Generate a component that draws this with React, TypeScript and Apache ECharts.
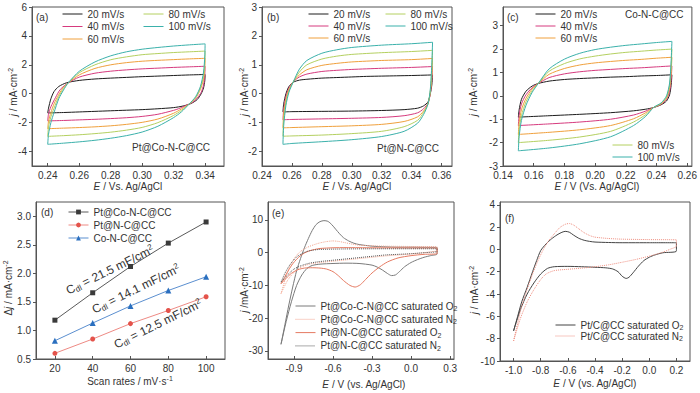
import React, { useEffect, useRef } from "react";
import * as echarts from "echarts";

type P = [number, number];

const FONT = '"Liberation Sans", Arial, Helvetica, sans-serif';
const AX = "#555";
const TXT = "#333";

const RATE_NAMES = ["20 mV/s", "40 mV/s", "60 mV/s", "80 mV/s", "100 mV/s"];
const RATE_COLORS = ["#1c1c1c", "#d63a7e", "#f0a03c", "#b4d060", "#3bb1ab"];

// (a) Pt@Co-N-C@CC
const A_20: P[] = [[0.24,-1.33],[0.2405,-1.0],[0.242,-0.35],[0.244,0.15],[0.247,0.5],[0.252,0.76],[0.26,0.92],[0.27,1.02],[0.28,1.08],[0.29,1.13],[0.30,1.18],[0.31,1.22],[0.32,1.26],[0.33,1.3],[0.34,1.33],[0.3398,0.9],[0.339,0.4],[0.3375,0.0],[0.335,-0.4],[0.331,-0.68],[0.326,-0.85],[0.32,-0.96],[0.31,-1.04],[0.30,-1.1],[0.29,-1.14],[0.28,-1.18],[0.27,-1.22],[0.26,-1.26],[0.25,-1.3],[0.24,-1.33]];
const A_40: P[] = [[0.24,-1.88],[0.2405,-1.4],[0.242,-0.9],[0.245,-0.25],[0.248,0.3],[0.253,0.75],[0.26,1.15],[0.27,1.42],[0.28,1.56],[0.29,1.65],[0.30,1.72],[0.31,1.77],[0.32,1.82],[0.33,1.86],[0.34,1.9],[0.3398,1.3],[0.339,0.6],[0.3375,0.1],[0.335,-0.3],[0.332,-0.6],[0.328,-0.8],[0.324,-1.0],[0.32,-1.15],[0.31,-1.42],[0.30,-1.57],[0.29,-1.66],[0.28,-1.72],[0.27,-1.77],[0.26,-1.81],[0.25,-1.85],[0.24,-1.88]];
const A_60: P[] = [[0.24,-2.42],[0.2405,-1.9],[0.242,-1.3],[0.244,-0.7],[0.247,-0.05],[0.25,0.45],[0.253,0.75],[0.26,1.3],[0.27,1.75],[0.28,2.0],[0.29,2.15],[0.30,2.25],[0.31,2.31],[0.32,2.36],[0.33,2.41],[0.34,2.45],[0.3398,1.8],[0.339,1.0],[0.337,0.3],[0.334,-0.3],[0.33,-0.7],[0.325,-1.05],[0.32,-1.35],[0.31,-1.75],[0.30,-1.98],[0.29,-2.12],[0.28,-2.22],[0.27,-2.29],[0.26,-2.34],[0.25,-2.38],[0.24,-2.42]];
const A_80: P[] = [[0.24,-2.95],[0.2405,-2.3],[0.242,-1.6],[0.244,-1.0],[0.247,-0.2],[0.25,0.35],[0.253,0.75],[0.26,1.45],[0.27,2.0],[0.28,2.35],[0.29,2.55],[0.30,2.7],[0.31,2.78],[0.32,2.85],[0.33,2.9],[0.34,2.95],[0.3398,2.2],[0.339,1.2],[0.337,0.4],[0.334,-0.25],[0.33,-0.7],[0.325,-1.15],[0.32,-1.5],[0.31,-2.0],[0.30,-2.33],[0.29,-2.52],[0.28,-2.66],[0.27,-2.76],[0.26,-2.84],[0.25,-2.9],[0.24,-2.95]];
const A_100: P[] = [[0.24,-3.5],[0.2405,-2.8],[0.242,-2.0],[0.244,-1.3],[0.247,-0.35],[0.25,0.25],[0.253,0.75],[0.26,1.55],[0.27,2.2],[0.28,2.62],[0.29,2.9],[0.30,3.08],[0.31,3.2],[0.32,3.3],[0.33,3.38],[0.34,3.45],[0.3398,2.6],[0.339,1.5],[0.337,0.5],[0.334,-0.2],[0.33,-0.7],[0.325,-1.25],[0.32,-1.65],[0.31,-2.25],[0.30,-2.65],[0.29,-2.9],[0.28,-3.08],[0.27,-3.22],[0.26,-3.33],[0.25,-3.42],[0.24,-3.5]];

// (b) Pt@N-C@CC
const B_20: P[] = [[0.254,-0.63],[0.2545,-0.35],[0.256,0.0],[0.258,0.25],[0.261,0.4],[0.265,0.47],[0.27,0.5],[0.28,0.54],[0.29,0.56],[0.30,0.58],[0.31,0.6],[0.32,0.61],[0.33,0.62],[0.34,0.63],[0.354,0.65],[0.3535,0.3],[0.3525,0.0],[0.351,-0.28],[0.348,-0.42],[0.344,-0.5],[0.335,-0.55],[0.32,-0.58],[0.30,-0.6],[0.28,-0.61],[0.26,-0.62],[0.254,-0.63]];
const B_40: P[] = [[0.254,-0.9],[0.2545,-0.55],[0.256,-0.1],[0.258,0.2],[0.261,0.42],[0.265,0.58],[0.27,0.68],[0.28,0.77],[0.29,0.81],[0.30,0.84],[0.32,0.88],[0.34,0.91],[0.354,0.94],[0.3535,0.45],[0.3525,0.0],[0.351,-0.32],[0.348,-0.52],[0.344,-0.66],[0.335,-0.76],[0.32,-0.82],[0.30,-0.85],[0.28,-0.87],[0.26,-0.89],[0.254,-0.9]];
const B_60: P[] = [[0.254,-1.18],[0.2545,-0.7],[0.256,-0.2],[0.258,0.15],[0.261,0.42],[0.265,0.65],[0.27,0.83],[0.28,0.98],[0.29,1.05],[0.30,1.1],[0.32,1.15],[0.34,1.18],[0.354,1.22],[0.3535,0.6],[0.3525,0.05],[0.351,-0.33],[0.348,-0.6],[0.344,-0.8],[0.335,-0.96],[0.32,-1.06],[0.30,-1.11],[0.28,-1.14],[0.26,-1.17],[0.254,-1.18]];
const B_80: P[] = [[0.254,-1.47],[0.2545,-0.9],[0.256,-0.3],[0.258,0.1],[0.261,0.42],[0.265,0.75],[0.27,1.0],[0.28,1.2],[0.29,1.3],[0.30,1.36],[0.32,1.42],[0.34,1.46],[0.354,1.5],[0.3535,0.8],[0.3525,0.1],[0.351,-0.35],[0.348,-0.65],[0.344,-0.92],[0.335,-1.14],[0.32,-1.3],[0.30,-1.38],[0.28,-1.43],[0.26,-1.46],[0.254,-1.47]];
const B_100: P[] = [[0.254,-1.75],[0.2545,-1.1],[0.256,-0.4],[0.258,0.05],[0.261,0.42],[0.265,0.85],[0.27,1.15],[0.28,1.4],[0.29,1.52],[0.30,1.6],[0.32,1.68],[0.34,1.73],[0.354,1.78],[0.3535,1.0],[0.3525,0.15],[0.351,-0.35],[0.348,-0.72],[0.344,-1.02],[0.335,-1.3],[0.32,-1.48],[0.30,-1.59],[0.28,-1.66],[0.26,-1.72],[0.254,-1.75]];

// (c) Co-N-C@CC
const C_20: P[] = [[0.15,-0.91],[0.1505,-0.6],[0.152,-0.15],[0.155,0.2],[0.159,0.42],[0.163,0.53],[0.17,0.63],[0.18,0.7],[0.19,0.74],[0.20,0.77],[0.21,0.8],[0.22,0.82],[0.23,0.85],[0.24,0.87],[0.25,0.9],[0.2495,0.45],[0.2485,0.05],[0.2465,-0.22],[0.243,-0.38],[0.238,-0.5],[0.233,-0.57],[0.225,-0.64],[0.21,-0.72],[0.19,-0.79],[0.17,-0.85],[0.15,-0.91]];
const C_40: P[] = [[0.15,-1.27],[0.1505,-0.85],[0.152,-0.35],[0.155,0.05],[0.159,0.35],[0.163,0.53],[0.17,0.78],[0.18,0.94],[0.19,1.03],[0.20,1.09],[0.21,1.13],[0.22,1.17],[0.23,1.2],[0.24,1.24],[0.25,1.28],[0.2495,0.7],[0.2485,0.2],[0.2465,-0.15],[0.243,-0.36],[0.238,-0.5],[0.233,-0.65],[0.225,-0.82],[0.21,-1.0],[0.19,-1.12],[0.17,-1.2],[0.15,-1.27]];
const C_60: P[] = [[0.15,-1.65],[0.1505,-1.15],[0.152,-0.6],[0.155,-0.1],[0.159,0.3],[0.163,0.53],[0.17,0.92],[0.18,1.17],[0.19,1.32],[0.20,1.41],[0.21,1.47],[0.22,1.52],[0.23,1.56],[0.24,1.61],[0.25,1.65],[0.2495,1.0],[0.2485,0.35],[0.2465,-0.1],[0.243,-0.34],[0.238,-0.5],[0.233,-0.72],[0.225,-0.98],[0.21,-1.27],[0.19,-1.45],[0.17,-1.56],[0.15,-1.65]];
const C_80: P[] = [[0.15,-2.0],[0.1505,-1.45],[0.152,-0.85],[0.155,-0.25],[0.159,0.22],[0.163,0.53],[0.17,1.05],[0.18,1.38],[0.19,1.58],[0.20,1.7],[0.21,1.79],[0.22,1.86],[0.23,1.91],[0.24,1.96],[0.25,2.0],[0.2495,1.25],[0.2485,0.45],[0.2465,-0.05],[0.243,-0.32],[0.238,-0.5],[0.233,-0.8],[0.225,-1.12],[0.21,-1.52],[0.19,-1.76],[0.17,-1.9],[0.15,-2.0]];
const C_100: P[] = [[0.15,-2.35],[0.1505,-1.75],[0.152,-1.05],[0.155,-0.4],[0.159,0.15],[0.163,0.53],[0.17,1.15],[0.18,1.57],[0.19,1.82],[0.20,1.98],[0.21,2.08],[0.22,2.16],[0.23,2.22],[0.24,2.28],[0.25,2.33],[0.2495,1.5],[0.2485,0.55],[0.2465,0.0],[0.243,-0.3],[0.238,-0.5],[0.233,-0.87],[0.225,-1.27],[0.21,-1.75],[0.19,-2.05],[0.17,-2.23],[0.15,-2.35]];

// (d) Δj vs scan rate
const D_RATES = [20, 40, 60, 80, 100];
const D_PT_CONC = [1.18, 1.66, 2.12, 2.53, 2.90];
const D_PT_NC = [0.60, 0.85, 1.12, 1.35, 1.59];
const D_CONC = [0.82, 1.13, 1.43, 1.70, 1.94];
const D_NAMES = ["Pt@Co-N-C@CC", "Pt@N-C@CC", "Co-N-C@CC"];

// (e) ORR CVs
const E_NAMES = ["Pt@Co-C-N@CC saturated O2", "Pt@Co-C-N@CC saturated N2", "Pt@N-C@CC saturated O2", "Pt@N-C@CC saturated N2"];
const E_COCN_O2: P[] = [[-1.0,-28],[-0.97,-22],[-0.94,-16],[-0.91,-10.5],[-0.88,-5.5],[-0.85,-1.8],[-0.82,1.5],[-0.79,4.3],[-0.76,6.8],[-0.73,8.6],[-0.7,9.5],[-0.67,9.8],[-0.64,9.6],[-0.61,8.6],[-0.58,7.2],[-0.55,5.8],[-0.52,4.6],[-0.48,3.6],[-0.44,2.9],[-0.4,2.5],[-0.3,2.0],[-0.2,1.8],[-0.1,1.7],[0.0,1.7],[0.1,1.65],[0.2,1.6],[0.2,-0.4],[0.15,-0.9],[0.1,-1.4],[0.05,-2.1],[0.0,-3.0],[-0.05,-4.3],[-0.09,-5.8],[-0.12,-6.8],[-0.15,-7.0],[-0.18,-6.4],[-0.22,-5.3],[-0.26,-4.4],[-0.3,-3.8],[-0.4,-3.3],[-0.5,-3.2],[-0.6,-3.3],[-0.7,-3.5],[-0.76,-3.9],[-0.8,-4.8],[-0.84,-6.8],[-0.88,-10],[-0.92,-15],[-0.96,-21],[-1.0,-28]];
const E_COCN_N2: P[] = [[-1.0,-12.5],[-0.97,-8.5],[-0.94,-5],[-0.91,-2.5],[-0.88,-0.8],[-0.85,0.4],[-0.8,1.6],[-0.75,2.4],[-0.7,3.0],[-0.65,3.4],[-0.6,3.6],[-0.55,3.4],[-0.5,3.0],[-0.45,2.6],[-0.4,2.3],[-0.3,2.1],[-0.2,2.0],[0.0,1.9],[0.2,1.8],[0.2,0.6],[0.15,0.3],[0.1,0.0],[0.0,-0.4],[-0.1,-0.7],[-0.2,-1.0],[-0.3,-1.4],[-0.4,-1.8],[-0.5,-2.2],[-0.6,-2.6],[-0.7,-3.0],[-0.78,-3.5],[-0.84,-4.3],[-0.9,-6.0],[-0.95,-8.5],[-1.0,-12.5]];
const E_NC_O2: P[] = [[-1.0,-9.5],[-0.97,-7.3],[-0.94,-5.2],[-0.91,-3.4],[-0.88,-2.0],[-0.85,-0.9],[-0.82,-0.1],[-0.78,0.6],[-0.74,1.0],[-0.7,1.3],[-0.6,1.5],[-0.5,1.55],[-0.3,1.5],[0.0,1.45],[0.2,1.4],[0.2,-0.3],[0.1,-0.5],[0.0,-0.9],[-0.1,-1.6],[-0.18,-2.8],[-0.24,-4.3],[-0.3,-6.2],[-0.35,-8.2],[-0.39,-9.8],[-0.43,-10.5],[-0.47,-10.0],[-0.52,-8.5],[-0.56,-7.0],[-0.6,-5.8],[-0.65,-5.0],[-0.7,-4.7],[-0.76,-4.6],[-0.82,-4.7],[-0.87,-5.2],[-0.92,-6.3],[-0.96,-7.8],[-1.0,-9.5]];
const E_NC_N2: P[] = [[-1.0,-9],[-0.97,-6.3],[-0.94,-4.2],[-0.91,-2.6],[-0.88,-1.3],[-0.84,-0.3],[-0.8,0.4],[-0.75,0.8],[-0.7,1.0],[-0.5,1.15],[-0.2,1.2],[0.0,1.2],[0.2,1.2],[0.2,0.4],[0.1,0.0],[0.0,-0.3],[-0.1,-0.5],[-0.2,-0.7],[-0.3,-1.1],[-0.4,-1.5],[-0.5,-1.9],[-0.6,-2.3],[-0.7,-2.7],[-0.78,-3.2],[-0.84,-3.9],[-0.9,-5.0],[-0.95,-6.8],[-1.0,-9]];

// (f) Pt/C@CC
const F_NAMES = ["Pt/C@CC saturated O2", "Pt/C@CC saturated N2"];
const F_O2: P[] = [[-1.0,-7.3],[-0.97,-6.0],[-0.94,-4.7],[-0.9,-3.4],[-0.86,-2.0],[-0.83,-1.0],[-0.8,-0.1],[-0.76,0.5],[-0.72,0.95],[-0.68,1.3],[-0.65,1.5],[-0.62,1.62],[-0.59,1.55],[-0.56,1.3],[-0.52,1.0],[-0.48,0.82],[-0.44,0.72],[-0.4,0.66],[-0.3,0.62],[-0.2,0.6],[0.0,0.6],[0.2,0.6],[0.2,-0.15],[0.1,-0.3],[0.04,-0.5],[0.0,-0.7],[-0.04,-1.0],[-0.08,-1.5],[-0.12,-2.1],[-0.15,-2.5],[-0.17,-2.6],[-0.2,-2.4],[-0.23,-2.0],[-0.27,-1.75],[-0.32,-1.65],[-0.4,-1.6],[-0.5,-1.55],[-0.6,-1.52],[-0.7,-1.55],[-0.75,-1.7],[-0.8,-2.2],[-0.85,-3.0],[-0.9,-4.0],[-0.95,-5.4],[-1.0,-7.3]];
const F_N2: P[] = [[-1.0,-8.2],[-0.97,-6.6],[-0.94,-5.1],[-0.9,-3.6],[-0.86,-2.2],[-0.82,-1.0],[-0.78,0.0],[-0.74,0.8],[-0.7,1.4],[-0.66,1.95],[-0.62,2.25],[-0.59,2.32],[-0.56,2.2],[-0.52,1.85],[-0.48,1.5],[-0.44,1.25],[-0.4,1.1],[-0.3,0.98],[-0.2,0.92],[0.0,0.88],[0.2,0.85],[0.2,0.3],[0.15,0.0],[0.1,-0.25],[0.0,-0.6],[-0.1,-0.9],[-0.2,-1.15],[-0.3,-1.38],[-0.4,-1.55],[-0.5,-1.68],[-0.6,-1.78],[-0.7,-1.9],[-0.76,-2.2],[-0.8,-2.7],[-0.85,-3.6],[-0.9,-4.7],[-0.95,-6.2],[-1.0,-8.2]];

// tick values
const A_XTICKS = [0.24, 0.26, 0.28, 0.30, 0.32, 0.34];
const A_YTICKS = [-4, -2, 0, 2, 4, 6];
const B_XTICKS = [0.24, 0.26, 0.28, 0.30, 0.32, 0.34, 0.36];
const B_YTICKS = [-2, -1, 0, 1, 2, 3];
const C_XTICKS = [0.14, 0.16, 0.18, 0.20, 0.22, 0.24, 0.26];
const C_YTICKS = [-3, -2, -1, 0, 1, 2, 3];
const D_XTICKS = [20, 40, 60, 80, 100];
const D_YTICKS = [0.5, 1.0, 1.5, 2.0, 2.5, 3.0];
const E_XTICKS = [-0.9, -0.6, -0.3, 0.0, 0.3];
const E_YTICKS = [-30, -20, -10, 0, 10];
const F_XTICKS = [-1.0, -0.8, -0.6, -0.4, -0.2, 0.0, 0.2];
const F_YTICKS = [-10, -8, -6, -4, -2, 0, 2, 4];

const RICH = {
  i: { fontStyle: "italic", fontSize: 10, fontFamily: FONT, fill: TXT, color: TXT },
  sup: { fontSize: 7, padding: [0, 0, 5, 0], fontFamily: FONT, color: TXT },
  sub: { fontSize: 7, padding: [5, 0, 0, 0], fontFamily: FONT, color: TXT },
};
const RICH_BIG = {
  sub: { fontSize: 8, padding: [6, 0, 0, 0], fontFamily: FONT, color: TXT },
  sup: { fontSize: 8, padding: [0, 0, 6, 0], fontFamily: FONT, color: TXT },
};

function xAx(g: number, min: number, max: number, ticks: number[], dec: number) {
  return {
    type: "value", gridIndex: g, min, max, position: "bottom",
    axisLine: { show: true, onZero: false, lineStyle: { color: AX, width: 1 } },
    axisTick: { show: true, inside: true, length: 3, customValues: ticks, lineStyle: { color: AX } },
    axisLabel: { show: true, customValues: ticks, formatter: (v: number) => Number(v).toFixed(dec), color: TXT, fontSize: 10, fontFamily: FONT, margin: 4 },
    splitLine: { show: false },
  };
}
function yAx(g: number, min: number, max: number, ticks: number[], dec: number) {
  return {
    type: "value", gridIndex: g, min, max, position: "left",
    axisLine: { show: true, onZero: false, lineStyle: { color: AX, width: 1 } },
    axisTick: { show: true, inside: false, length: 3, customValues: ticks, lineStyle: { color: AX } },
    axisLabel: { show: true, customValues: ticks, formatter: (v: number) => Number(v).toFixed(dec), color: TXT, fontSize: 10, fontFamily: FONT, margin: 5 },
    splitLine: { show: false },
  };
}

function cv(name: string, data: P[], color: string, g: number, type: string = "solid") {
  return {
    type: "line", name, data, xAxisIndex: g, yAxisIndex: g, symbol: "none", showSymbol: false,
    smooth: 0.25, lineStyle: { color, width: 1, type }, itemStyle: { color }, z: 3,
  };
}

function txt(x: number, y: number, text: string, extra: any = {}) {
  const { rotation, ...style } = extra;
  return {
    type: "text", x, y, rotation: rotation || 0, z: 50,
    style: { text, fill: TXT, fontSize: 10, fontFamily: FONT, align: "left", verticalAlign: "middle", rich: RICH, ...style },
  };
}

export default function App() {
  const ref = useRef<HTMLDivElement>(null);
  useEffect(() => {
    document.body.style.margin = "0";
    if (!ref.current) return;
    const chart = echarts.init(ref.current, undefined, { renderer: "svg" });

    const grids = [
      { left: 32, top: 7, width: 192, height: 159 },
      { left: 262, top: 7, width: 190, height: 159 },
      { left: 503, top: 7, width: 189, height: 159 },
      { left: 36, top: 202, width: 189, height: 157 },
      { left: 268, top: 202, width: 186, height: 157 },
      { left: 500, top: 202, width: 190, height: 159 },
    ].map((g) => ({ ...g, show: true, borderColor: AX, borderWidth: 1, backgroundColor: "transparent" }));

    const xAxis = [
      xAx(0, 0.23, 0.352, A_XTICKS, 2),
      xAx(1, 0.24, 0.367, B_XTICKS, 2),
      xAx(2, 0.14, 0.263, C_XTICKS, 2),
      xAx(3, 10, 110, D_XTICKS, 0),
      xAx(4, -1.1, 0.33, E_XTICKS, 1),
      xAx(5, -1.1, 0.3, F_XTICKS, 1),
    ];
    const yAxis = [
      yAx(0, -5, 6, A_YTICKS, 0),
      yAx(1, -2.5, 3, B_YTICKS, 0),
      yAx(2, -3, 3.8, C_YTICKS, 0),
      yAx(3, 0.5, 3.25, D_YTICKS, 1),
      yAx(4, -32.5, 15.5, E_YTICKS, 0),
      yAx(5, -10, 4.25, F_YTICKS, 0),
    ];

    const aSets = [A_20, A_40, A_60, A_80, A_100];
    const bSets = [B_20, B_40, B_60, B_80, B_100];
    const cSets = [C_20, C_40, C_60, C_80, C_100];
    const series: any[] = [];
    [aSets, bSets, cSets].forEach((sets, g) => {
      sets.forEach((d, i) => series.push(cv(RATE_NAMES[i], d, RATE_COLORS[i], g)));
    });

    const dStyles = [
      { vals: D_PT_CONC, symbol: "rect", size: 5, line: "#5a5a5a", item: "#3a3a3a" },
      { vals: D_PT_NC, symbol: "circle", size: 5, line: "#ee8a84", item: "#e4534b" },
      { vals: D_CONC, symbol: "triangle", size: 6, line: "#5b8fd0", item: "#2a6fbf" },
    ];
    dStyles.forEach((s, i) => {
      series.push({
        type: "line", name: D_NAMES[i], xAxisIndex: 3, yAxisIndex: 3,
        data: D_RATES.map((r, k) => [r, s.vals[k]]),
        symbol: s.symbol, symbolSize: s.size, showSymbol: true,
        lineStyle: { color: s.line, width: 1 }, itemStyle: { color: s.item },
      });
    });

    series.push(cv(E_NAMES[0], E_COCN_O2, "#7a7a7a", 4, "solid"));
    series.push(cv(E_NAMES[1], E_COCN_N2, "#f2a48e", 4, "dotted"));
    series.push(cv(E_NAMES[2], E_NC_O2, "#e57a62", 4, "solid"));
    series.push(cv(E_NAMES[3], E_NC_N2, "#555555", 4, "dotted"));

    series.push(cv(F_NAMES[0], F_O2, "#444444", 5, "solid"));
    series.push(cv(F_NAMES[1], F_N2, "#ee8f80", 5, "dotted"));

    const legText = { fontSize: 10, color: TXT, fontFamily: FONT, lineHeight: 12 };
    const legBase = {
      orient: "vertical", padding: 0, itemWidth: 20, itemHeight: 10, selectedMode: false,
      textStyle: legText, itemStyle: { opacity: 0 }, lineStyle: { width: 1 },
    };
    const subFmt = (n: string) => n.replace(/ (O|N)2$/, " $1{sub|2}");
    const legSubText = { fontSize: 10, color: TXT, fontFamily: FONT, rich: { sub: { fontSize: 7, padding: [5, 0, 0, 0], fontFamily: FONT, color: TXT } } };

    const legend = [
      { ...legBase, data: RATE_NAMES.slice(0, 3), left: 62, top: 8, itemGap: 0.5 },
      { ...legBase, data: RATE_NAMES.slice(3), left: 143, top: 8, itemGap: 0.5 },
      { ...legBase, data: RATE_NAMES.slice(0, 3), left: 308, top: 8, itemGap: 0 },
      { ...legBase, data: RATE_NAMES.slice(3), left: 385, top: 8, itemGap: 0 },
      { ...legBase, data: RATE_NAMES.slice(0, 3), left: 535, top: 8, itemGap: 0 },
      { ...legBase, data: RATE_NAMES.slice(3), left: 612, top: 139, itemGap: 0 },
      { ...legBase, data: D_NAMES, left: 68, top: 206, itemGap: 1, itemHeight: 6, itemStyle: {} },
      { ...legBase, data: E_NAMES, left: 295, top: 301, itemGap: 2.3, formatter: subFmt, textStyle: legSubText },
      { ...legBase, data: F_NAMES, left: 555, top: 320, itemGap: 0, formatter: subFmt, textStyle: legSubText },
    ];

    const R90 = Math.PI / 2;
    const ROT = (26 * Math.PI) / 180;
    const graphic = [
      txt(36, 17, "(a)"), txt(267, 17, "(b)"), txt(507, 17, "(c)"),
      txt(41, 212, "(d)"), txt(272, 213, "(e)"), txt(505, 218, "(f)"),
      txt(132, 147, "Pt@Co-N-C@CC"),
      txt(377, 148, "Pt@N-C@CC"),
      txt(625, 14, "Co-N-C@CC"),
      // y names
      txt(13, 92, "{i|j} / mA·cm{sup|-2}", { rotation: R90, align: "center" }),
      txt(244, 92, "{i|j} / mA·cm{sup|-2}", { rotation: R90, align: "center" }),
      txt(473, 92, "{i|j} / mA·cm{sup|-2}", { rotation: R90, align: "center" }),
      txt(8, 288, "Δ{i|j} / mA·cm{sup|-2}", { rotation: R90, align: "center" }),
      txt(244, 290, "{i|j} /mA·cm{sup|-2}", { rotation: R90, align: "center" }),
      txt(474, 290, "{i|j} / mA·cm{sup|-2}", { rotation: R90, align: "center" }),
      // x names
      txt(128, 186, "{i|E} / Vs. Ag/AgCl", { align: "center" }),
      txt(357, 186, "{i|E} / Vs. Ag/AgCl", { align: "center" }),
      txt(597, 186, "{i|E} / V (Vs. Ag/AgCl)", { align: "center" }),
      txt(130, 381, "Scan rates / mV·s{sup|-1}", { align: "center" }),
      txt(364, 384, "{i|E} / V (vs. Ag/AgCl)", { align: "center" }),
      txt(595, 383, "{i|E} / V (vs. Ag/AgCl)", { align: "center" }),
      // Cdl annotations
      txt(110, 270, "C{sub|dl} = 21.5 mF/cm{sup|2}", { rotation: ROT, align: "center", fontSize: 12, rich: RICH_BIG }),
      txt(136, 289, "C{sub|dl} = 14.1 mF/cm{sup|2}", { rotation: ROT, align: "center", fontSize: 12, rich: RICH_BIG }),
      txt(158, 324, "C{sub|dl} = 12.5 mF/cm{sup|2}", { rotation: ROT, align: "center", fontSize: 12, rich: RICH_BIG }),
    ];

    chart.setOption({
      animation: false,
      backgroundColor: "#ffffff",
      textStyle: { fontFamily: FONT },
      grid: grids,
      xAxis,
      yAxis,
      legend,
      series,
      graphic,
    } as any);
    return () => chart.dispose();
  }, []);
  return <div ref={ref} style={{ width: 700, height: 393 }} />;
}
